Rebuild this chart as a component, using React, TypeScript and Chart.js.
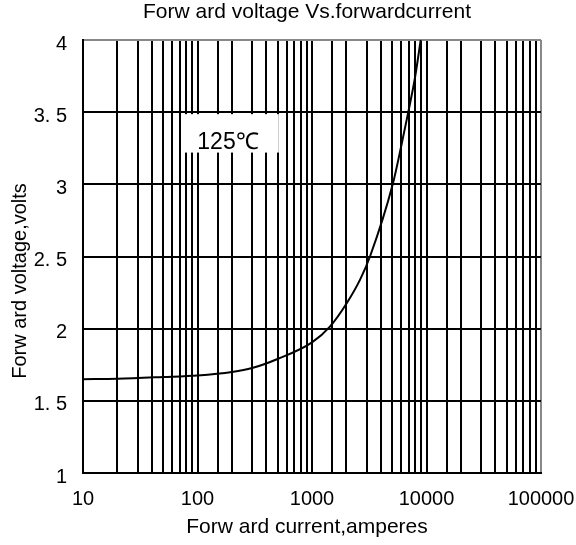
import React, { useEffect, useRef } from "react";
import { Chart, registerables } from "chart.js";

Chart.register(...registerables);

const currents = [10, 20, 50, 100, 200, 300, 500, 1000, 1440, 2015, 2630, 3210, 5070, 5980, 6930, 7940, 8900];
const voltages = [1.65, 1.653, 1.665, 1.676, 1.7, 1.727, 1.79, 1.905, 2.016, 2.178, 2.34, 2.5, 3.0, 3.255, 3.5, 3.741, 4.0];
const xTickValues = [10, 100, 1000, 10000, 100000];
const xTickLabels = ["10", "100", "1000", "10000", "100000"];
const yTickValues = [1, 1.5, 2, 2.5, 3, 3.5, 4];
const yTickLabels = ["1", "1. 5", "2", "2. 5", "3", "3. 5", "4"];
const titleText = "Forw ard voltage Vs.forwardcurrent";
const xTitleText = "Forw ard current,amperes";
const yTitleText = "Forw ard voltage,volts";
const tempLabel = "125℃";

const FONT = "'Liberation Sans', Arial, sans-serif";

export default function App() {
  const ref = useRef<HTMLCanvasElement | null>(null);
  useEffect(() => {
    if (!ref.current) return;
    const textPlugin = {
      id: "texts",
      afterDraw(chart: any) {
        const ctx = chart.ctx;
        const ys = chart.scales.y;
        ctx.save();
        // temperature box
        ctx.fillStyle = "#ffffff";
        const left = 182, right = 278;
        const top = ys.getPixelForValue(3.5) + 2, bottom = ys.getPixelForValue(3.22);
        ctx.fillRect(left, top, right - left, bottom - top);
        ctx.strokeStyle = "#cccccc";
        ctx.lineWidth = 1;
        ctx.beginPath();
        ctx.moveTo(right + 0.5, top);
        ctx.lineTo(right + 0.5, bottom);
        ctx.stroke();
        ctx.fillStyle = "#000";
        ctx.font = `23px ${FONT}`;
        ctx.textAlign = "center";
        ctx.textBaseline = "middle";
        ctx.fillText(tempLabel, 228, 143);
        // titles
        ctx.font = `21px ${FONT}`;
        ctx.fillText(titleText, 307, 12);
        ctx.fillText(xTitleText, 307, 527);
        ctx.font = `20px ${FONT}`;
        ctx.translate(20, 281);
        ctx.rotate(-Math.PI / 2);
        ctx.fillText(yTitleText, 0, 0);
        ctx.restore();
      },
    };
    const chart = new Chart(ref.current, {
      type: "line",
      data: {
        datasets: [
          {
            data: currents.map((c, i) => ({ x: c, y: voltages[i] })),
            borderColor: "#000",
            borderWidth: 2,
            pointRadius: 0,
            cubicInterpolationMode: "monotone",
            fill: false,
          },
        ],
      },
      options: {
        animation: false,
        responsive: false,
        layout: { padding: { left: 0, top: 40, right: 35, bottom: 0 } },
        plugins: { legend: { display: false }, title: { display: false }, tooltip: { enabled: false } },
        scales: {
          x: {
            type: "logarithmic",
            min: 10,
            max: 100000,
            afterFit(s: any) {
              s.height = 72;
              s.paddingLeft = 0;
              s.paddingRight = 0;
            },
            grid: {
              color: (c: any) => (c.tick && c.tick.value === 100000 ? "#888" : "#000"),
              lineWidth: 2,
              drawTicks: false,
            },
            border: { color: "#000", width: 2 },
            ticks: {
              autoSkip: false,
              maxRotation: 0,
              padding: 14,
              color: "#000",
              font: { family: FONT, size: 20 },
              callback: (v: any) => {
                const i = xTickValues.indexOf(Number(v));
                return i >= 0 ? xTickLabels[i] : "";
              },
            },
          },
          y: {
            type: "linear",
            min: 1,
            max: 4,
            afterFit(s: any) {
              s.width = 83;
              s.paddingTop = 0;
              s.paddingBottom = 0;
            },
            grid: {
              color: (c: any) => (c.tick && c.tick.value === 4 ? "#888" : "#000"),
              lineWidth: 2,
              drawTicks: false,
            },
            border: { color: "#000", width: 2 },
            ticks: {
              stepSize: 0.5,
              padding: 16,
              color: "#000",
              font: { family: FONT, size: 20, lineHeight: 0.4 },
              callback: (v: any) => {
                const i = yTickValues.indexOf(Number(v));
                return i >= 0 ? ["", yTickLabels[i]] : "";
              },
            },
          },
        },
      },
      plugins: [textPlugin],
    } as any);
    return () => chart.destroy();
  }, []);
  return (
    <div style={{ position: "fixed", left: 0, top: 0, width: 576, height: 545, background: "#fff" }}>
      <canvas ref={ref} width={576} height={545} style={{ width: 576, height: 545 }} />
    </div>
  );
}
